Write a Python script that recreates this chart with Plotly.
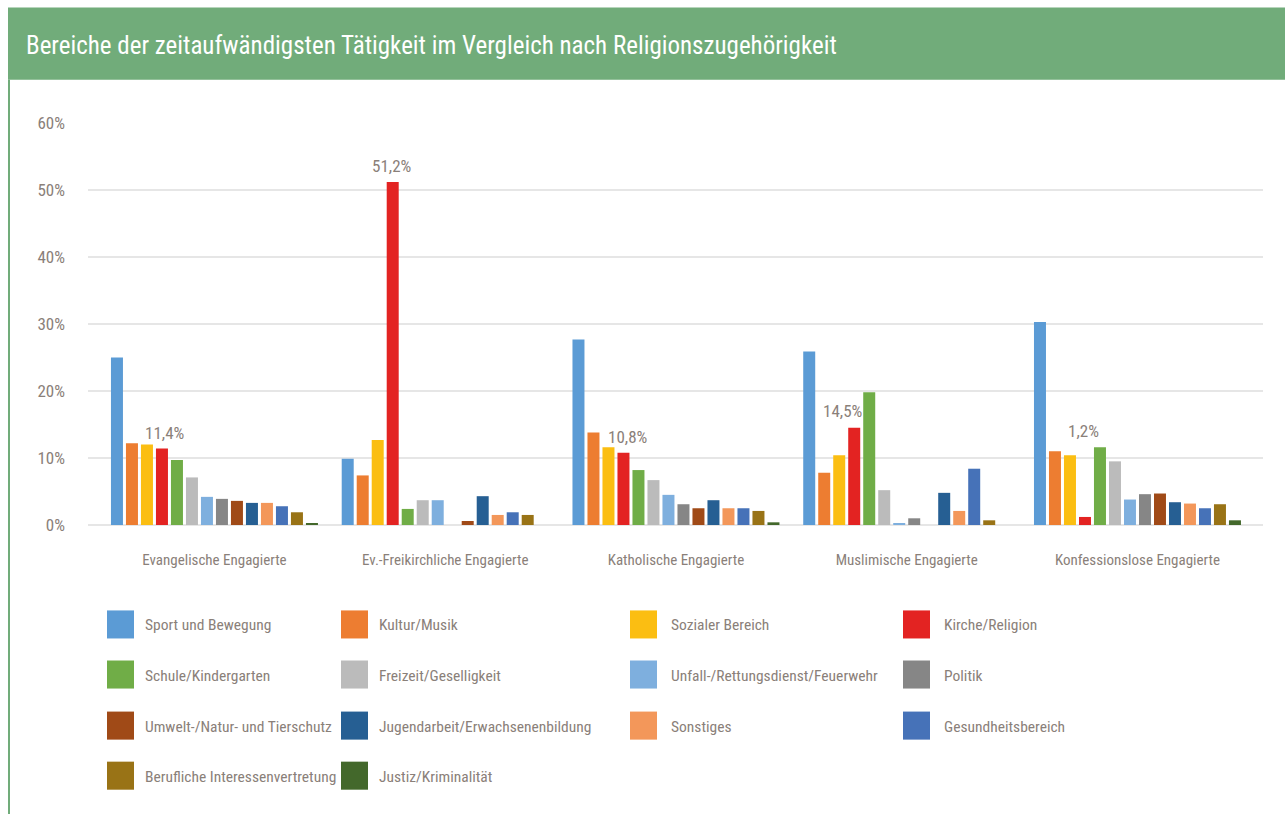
import plotly.graph_objects as go

W, H = 1285, 814

categories = ["Evangelische Engagierte", "Ev.-Freikirchliche Engagierte",
              "Katholische Engagierte", "Muslimische Engagierte",
              "Konfessionslose Engagierte"]

series_names = ["Sport und Bewegung", "Kultur/Musik", "Sozialer Bereich", "Kirche/Religion",
                "Schule/Kindergarten", "Freizeit/Geselligkeit",
                "Unfall-/Rettungsdienst/Feuerwehr", "Politik",
                "Umwelt-/Natur- und Tierschutz", "Jugendarbeit/Erwachsenenbildung",
                "Sonstiges", "Gesundheitsbereich", "Berufliche Interessenvertretung",
                "Justiz/Kriminalität"]

colors = ["#5b9bd5", "#ed7d31", "#fbbe12", "#e32322", "#70ad47", "#bbbbbb",
          "#7eafde", "#868686", "#a04a17", "#265f93", "#f3975a", "#4672b8",
          "#997316", "#43682b"]

sport = [25.0, 9.9, 27.7, 25.9, 30.3]
kultur = [12.2, 7.4, 13.8, 7.8, 11.0]
sozial = [12.0, 12.7, 11.6, 10.4, 10.4]
kirche = [11.4, 51.2, 10.8, 14.5, 1.2]
schule = [9.7, 2.4, 8.2, 19.8, 11.6]
freizeit = [7.1, 3.7, 6.7, 5.2, 9.5]
unfall = [4.2, 3.7, 4.5, 0.3, 3.8]
politik = [3.9, 0.0, 3.1, 1.0, 4.6]
umwelt = [3.6, 0.6, 2.5, 0.0, 4.7]
jugend = [3.3, 4.3, 3.7, 4.8, 3.4]
sonstiges = [3.3, 1.5, 2.5, 2.1, 3.2]
gesundheit = [2.8, 1.9, 2.5, 8.4, 2.5]
beruflich = [1.9, 1.5, 2.1, 0.7, 3.1]
justiz = [0.3, 0.0, 0.4, 0.0, 0.7]

series_values = [sport, kultur, sozial, kirche, schule, freizeit, unfall, politik,
                 umwelt, jugend, sonstiges, gesundheit, beruflich, justiz]

y_ticks = [0, 10, 20, 30, 40, 50, 60]
y_tick_labels = ["0%", "10%", "20%", "30%", "40%", "50%", "60%"]
data_labels = ["11,4%", "51,2%", "10,8%", "14,5%", "1,2%"]

FONT = "Roboto Condensed, Liberation Sans Narrow, DejaVu Sans Condensed, sans-serif"
TXT = "#8a8079"
GREEN = "#71ac7a"

# plot area in pixels
PL, PR, PT, PB = 88, 1263, 123.3, 524.7


def px(xp):
    return (xp - PL) / (PR - PL)


def py(yp):
    return (PB - yp) / (PB - PT)


fig = go.Figure()
for name, vals, col in zip(series_names, series_values, colors):
    fig.add_trace(go.Bar(x=categories, y=vals, name=name, marker_color=col,
                         marker_line_width=0, showlegend=False,
                         hovertemplate="%{x}<br>" + name + ": %{y:.1f}%<extra></extra>"))

shapes = []
annotations = []

# green title band and left border
shapes.append(dict(type="rect", xref="paper", yref="paper", x0=px(8), x1=px(1285),
                   y0=py(80), y1=py(8), fillcolor=GREEN, line_width=0, layer="below"))
shapes.append(dict(type="line", xref="paper", yref="paper", x0=px(9), x1=px(9),
                   y0=py(80), y1=py(814), line=dict(color=GREEN, width=2)))
annotations.append(dict(text="Bereiche der zeitaufwändigsten Tätigkeit im Vergleich nach Religionszugehörigkeit",
                        xref="paper", yref="paper", x=px(24), y=py(46), xanchor="left",
                        yanchor="middle", showarrow=False,
                        font=dict(family=FONT, size=25, color="white")))

# data labels for Kirche/Religion
kirche_offset = (3 - 6.5) * 15
label_dx = [3, -1, 4, -12, -1.5]
label_dy = [16, 16, 16, 17, 86]
for cat, v, t, dx, dy in zip(categories, kirche, data_labels, label_dx, label_dy):
    annotations.append(dict(text=t, x=cat, y=v, xref="x", yref="y", showarrow=False,
                            xshift=kirche_offset + dx, yshift=dy, yanchor="middle",
                            xanchor="center", font=dict(family=FONT, size=17, color=TXT)))

# manual legend (4 columns)
col_sw = [107, 341, 630, 903]
col_tx = [143, 377, 669, 942]
row_cy = [624, 674, 725, 775]
for i, (name, col) in enumerate(zip(series_names, colors)):
    r, c = divmod(i, 4)
    cy = row_cy[r]
    shapes.append(dict(type="rect", xref="paper", yref="paper",
                       x0=px(col_sw[c]), x1=px(col_sw[c] + 27),
                       y0=py(cy + 14), y1=py(cy - 14), fillcolor=col, line_width=0))
    annotations.append(dict(text=name, xref="paper", yref="paper", x=px(col_tx[c]),
                            y=py(cy + 1), xanchor="left", yanchor="middle", showarrow=False,
                            font=dict(family=FONT, size=15.5, color=TXT)))

fig.update_layout(
    width=W, height=H,
    margin=dict(l=PL, r=W - PR, t=PT, b=H - PB, pad=0),
    paper_bgcolor="white", plot_bgcolor="white",
    barmode="group", bargap=0.09, bargroupgap=0.2,
    font=dict(family=FONT, color=TXT),
    shapes=shapes, annotations=annotations,
    showlegend=False,
    xaxis=dict(type="category", range=[-0.548, 4.544], showgrid=False, showline=False,
               ticks="", tickfont=dict(family=FONT, size=15, color=TXT),
               ticklabelstandoff=24, fixedrange=True),
    yaxis=dict(range=[0, 60], tickvals=y_ticks, ticktext=y_tick_labels,
               showgrid=True, gridcolor="#e6e6e6", gridwidth=2,
               zeroline=True, zerolinecolor="#e6e6e6", zerolinewidth=2,
               showline=False, ticks="", tickfont=dict(family=FONT, size=17, color=TXT),
               ticklabelstandoff=22, fixedrange=True),
)

fig.write_html("out.html", config={"displayModeBar": False},
               post_script="document.body.style.margin='0';")
